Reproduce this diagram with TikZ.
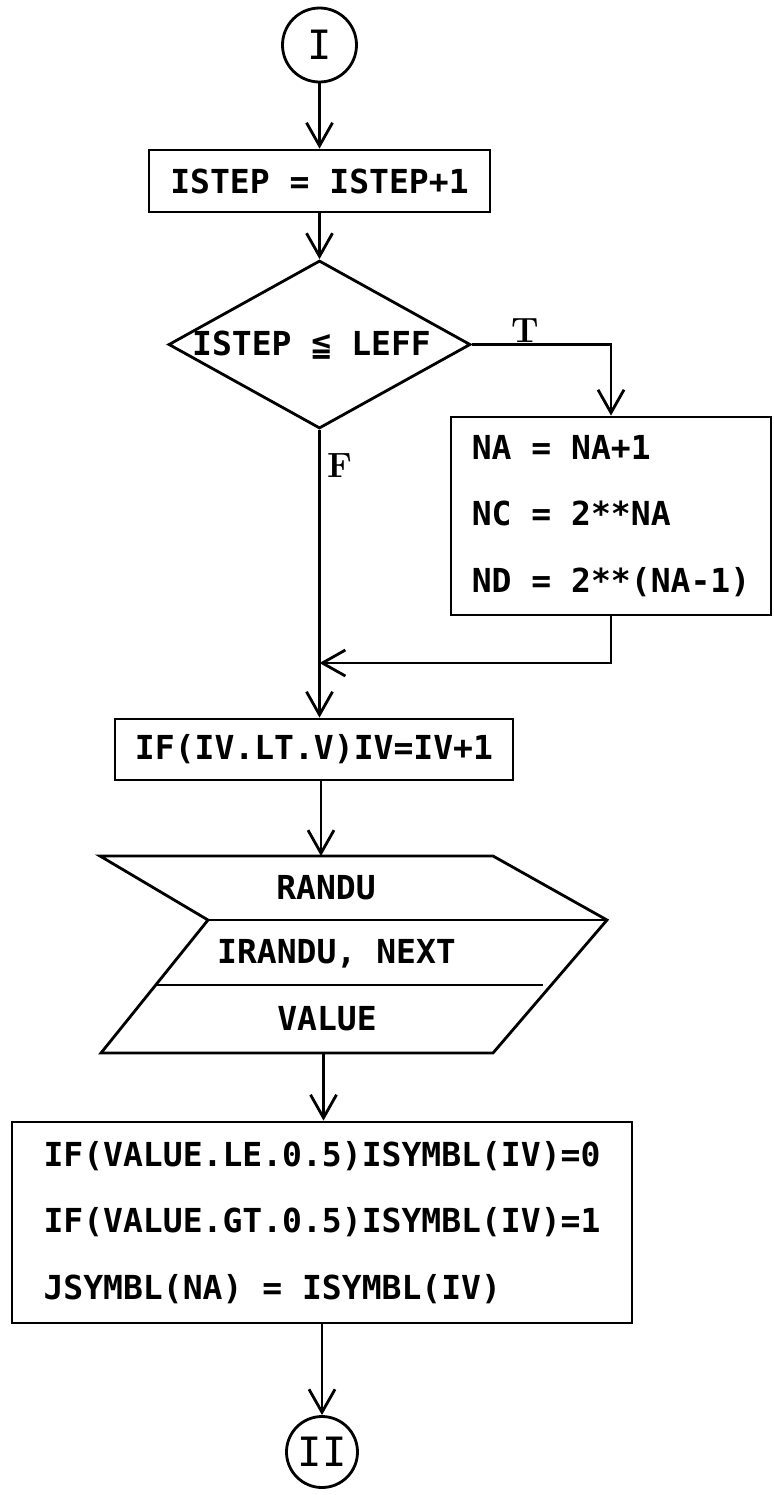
\documentclass[tikz,border=0pt]{standalone}
\usepackage{fontspec}
\usepackage{tikz}
\usetikzlibrary{shapes.geometric,arrows.meta}
\newfontfamily\codefont{DejaVu Sans Mono}

\begin{document}
\begin{tikzpicture}[line width=1.6pt, >={Straight Barb[length=4.6mm,width=5.2mm]},
  code/.style={font=\codefont\bfseries\fontsize{18.8}{37.8}\selectfont},
  box/.style={draw, code, inner sep=0pt},
  conn/.style={draw, circle, inner sep=0pt, font=\codefont\fontsize{23}{23}\selectfont},
  flag/.style={font=\bfseries\fontsize{20}{20}\selectfont, inner sep=1pt}]
\useasboundingbox (0,0) rectangle (15.48,-29.9);
\node[conn, minimum size=1.48cm] (entry) at (6.39,-0.9) {I};
\node[box, minimum width=6.82cm, minimum height=1.24cm] (incr) at (6.39,-3.62) {ISTEP = ISTEP+1};
\node[draw, diamond, inner sep=0pt, minimum width=6.04cm, minimum height=3.36cm] (test) at (6.39,-6.89) {};
\node[code, inner sep=0pt] (testtxt) at (6.23,-6.9) {ISTEP ≦ LEFF};
\node[box, align=left, minimum width=6.4cm, minimum height=3.96cm] (count) at (12.22,-10.32) {NA = NA+1\\NC = 2**NA\\ND = 2**(NA-1)};
\coordinate (merge) at (6.39,-13.26);
\node[box, minimum width=7.96cm, minimum height=1.22cm] (limit) at (6.28,-14.99) {IF(IV.LT.V)IV=IV+1};
\coordinate (rleft) at (2.0,-17.12);
\coordinate (rright) at (9.86,-17.12);
\coordinate (rtip) at (12.14,-18.4);
\coordinate (rbr) at (9.86,-21.06);
\coordinate (rbl) at (2.02,-21.06);
\coordinate (rnotch) at (4.16,-18.4);
\coordinate (rtop) at (6.42,-17.12);
\coordinate (rbot) at (6.47,-21.06);
\draw (rleft) -- (rright) -- (rtip) -- (rbr) -- (rbl) -- (rnotch) -- cycle;
\draw (rnotch) -- (rtip);
\draw (3.12,-19.7) -- (10.86,-19.7);
\node[code] (randu) at (6.52,-17.76) {RANDU};
\node[code] (args) at (6.73,-19.08) {IRANDU, NEXT};
\node[code] (value) at (6.54,-20.38) {VALUE};
\node[box, align=left, minimum width=12.4cm, minimum height=4.02cm] (symbl) at (6.44,-24.45) {IF(VALUE.LE.0.5)ISYMBL(IV)=0\\IF(VALUE.GT.0.5)ISYMBL(IV)=1\\JSYMBL(NA) = ISYMBL(IV)};
\node[conn, minimum size=1.42cm] (exit) at (6.44,-29.04) {II};
\draw[->] (entry) -- (incr);
\draw[->] (incr) -- (test.north);
\draw[->] (test.east) -| (count.north);
\node[flag] (ttag) at (10.5,-6.62) {T};
\draw[->] (test.south) -- (test.south |- limit.north);
\node[flag] (ftag) at (6.8,-9.32) {F};
\draw[->] (count.south) |- (merge);
\draw[->] (limit.south -| rtop) -- (rtop);
\draw[->] (rbot) -- (rbot |- symbl.north);
\draw[->] (symbl.south) -- (exit);
\end{tikzpicture}
\end{document}
